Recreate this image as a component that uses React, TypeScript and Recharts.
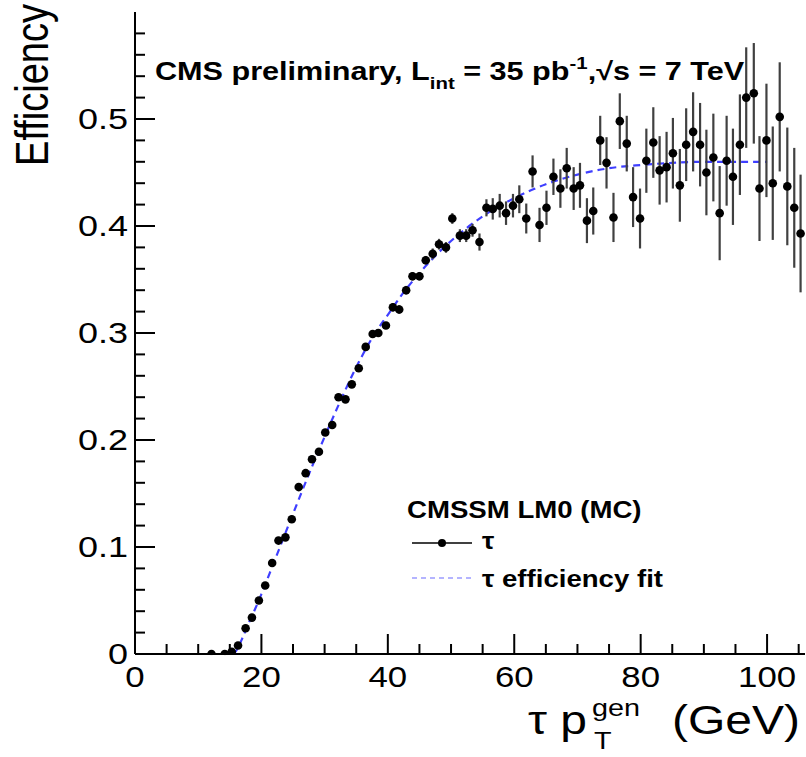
import { ComposedChart, ErrorBar, Line, Scatter, XAxis, YAxis } from 'recharts';

// measured tau efficiency (MC), bin centres in GeV
const ptGen = [
    12.1, 14.2, 15.3, 16.3, 17.5, 18.5, 19.6, 20.6, 21.7, 22.7, 23.8, 24.8, 25.9, 27.0, 28.0, 29.1, 30.1, 31.2,
    32.2, 33.3, 34.3, 35.4, 36.5, 37.6, 38.5, 39.7, 40.8, 41.8, 42.9, 43.9, 45.0, 46.0, 47.1, 48.1, 49.2, 50.2,
    51.4, 52.4, 53.4, 54.5, 55.6, 56.6, 57.7, 58.7, 59.8, 60.8, 61.9, 62.9, 64.0, 65.1, 66.2, 67.3, 68.3, 69.4,
    70.4, 71.5, 72.5, 73.6, 74.6, 75.7, 76.7, 77.8, 78.8, 79.9, 80.9, 82.0, 83.0, 84.1, 85.1, 86.2, 87.2, 88.3,
    89.4, 90.4, 91.5, 92.5, 93.6, 94.6, 95.7, 96.7, 97.9, 98.8, 99.9, 100.9, 102.0, 103.2, 104.3, 105.3,
];
const efficiency = [
    0.0, 0.0, 0.002, 0.008, 0.024, 0.034, 0.05, 0.064, 0.085, 0.106, 0.109, 0.126, 0.156, 0.169, 0.182, 0.189,
    0.207, 0.214, 0.24, 0.238, 0.252, 0.267, 0.287, 0.299, 0.3, 0.307, 0.324, 0.322, 0.34, 0.353, 0.353, 0.368,
    0.374, 0.383, 0.38, 0.407, 0.391, 0.391, 0.396, 0.385, 0.417, 0.416, 0.419, 0.412, 0.419, 0.425, 0.407,
    0.451, 0.401, 0.417, 0.446, 0.435, 0.454, 0.435, 0.438, 0.405, 0.414, 0.48, 0.459, 0.408, 0.498, 0.477,
    0.427, 0.407, 0.461, 0.478, 0.452, 0.455, 0.468, 0.438, 0.476, 0.488, 0.476, 0.45, 0.464, 0.412, 0.461,
    0.446, 0.476, 0.52, 0.524, 0.435, 0.48, 0.44, 0.502, 0.437, 0.417, 0.393,
];
const effError = [
    0.001, 0.001, 0.001, 0.002, 0.002, 0.002, 0.002, 0.002, 0.002, 0.002, 0.002, 0.002, 0.002, 0.002, 0.003,
    0.003, 0.003, 0.003, 0.003, 0.003, 0.003, 0.003, 0.003, 0.003, 0.003, 0.003, 0.004, 0.004, 0.004, 0.004,
    0.004, 0.004, 0.005, 0.005, 0.005, 0.005, 0.006, 0.006, 0.006, 0.008, 0.008, 0.01, 0.011, 0.011, 0.011,
    0.013, 0.014, 0.015, 0.016, 0.016, 0.017, 0.018, 0.019, 0.02, 0.021, 0.021, 0.022, 0.023, 0.024, 0.023,
    0.026, 0.026, 0.028, 0.028, 0.03, 0.033, 0.032, 0.033, 0.033, 0.034, 0.034, 0.037, 0.039, 0.04, 0.041,
    0.044, 0.042, 0.045, 0.047, 0.047, 0.047, 0.049, 0.053, 0.053, 0.051, 0.055, 0.056, 0.055,
];

// efficiency fit curve
const fitPt = [15.5, 16, 17, 18, 19, 20, 22, 25, 28, 30, 32, 35, 38, 40, 42, 45, 48, 50, 55, 60, 65, 70, 75, 80, 85, 90, 95, 100];
const fitEff = [
    0, 0.003, 0.015, 0.029, 0.042, 0.056, 0.086, 0.131, 0.175, 0.203, 0.23, 0.268, 0.3, 0.317, 0.334, 0.356,
    0.375, 0.386, 0.409, 0.426, 0.439, 0.448, 0.454, 0.457, 0.459, 0.46, 0.46, 0.46,
];

const xTicks = [0, 5, 10, 15, 20, 25, 30, 35, 40, 45, 50, 55, 60, 65, 70, 75, 80, 85, 90, 95, 100, 105];
const yTicks = [
    0, 0.02, 0.04, 0.06, 0.08, 0.1, 0.12, 0.14, 0.16, 0.18, 0.2, 0.22, 0.24, 0.26, 0.28, 0.3, 0.32, 0.34, 0.36,
    0.38, 0.4, 0.42, 0.44, 0.46, 0.48, 0.5, 0.52, 0.54, 0.56, 0.58,
];

const points = ptGen.map((x, i) => ({ x, eff: efficiency[i], err: effError[i] }));
const fit = fitPt.map((x, i) => ({ x, eff: fitEff[i] }));

const FONT = '"Liberation Sans", Arial, Helvetica, sans-serif';
const SX = 1.2;

function SText({ x, y, sx = SX, children, ...rest }: any) {
    return (
        <g transform={`translate(${x},${y}) scale(${sx},1)`}>
            <text x={0} y={0} fontFamily={FONT} fill="#000" {...rest}>
                {children}
            </text>
        </g>
    );
}

const xMajor = (v: number) => v % 20 === 0;
const yMajor = (v: number) => Math.round(v * 100) % 10 === 0;

function BottomTick({ x, y, payload }: any) {
    const v = payload.value;
    return (
        <g>
            <line x1={x} x2={x} y1={y} y2={y - (xMajor(v) ? 20 : 10)} stroke="#000" strokeWidth={2} />
            {xMajor(v) && (
                <SText x={x} y={y + 33} fontSize={29} textAnchor="middle">
                    {v}
                </SText>
            )}
        </g>
    );
}

function TopTick({ x, y, payload }: any) {
    const v = payload.value;
    return <line x1={x} x2={x} y1={y} y2={y + (xMajor(v) ? 20 : 10)} stroke="#000" strokeWidth={2} />;
}

function LeftTick({ x, y, payload }: any) {
    const v = payload.value;
    return (
        <g>
            <line x1={x} x2={x + (yMajor(v) ? 20 : 10)} y1={y} y2={y} stroke="#000" strokeWidth={2} />
            {yMajor(v) && (
                <SText x={x - 7} y={y + 10} fontSize={30} textAnchor="end">
                    {String(Math.round(v * 10) / 10)}
                </SText>
            )}
        </g>
    );
}

function RightTick({ x, y, payload }: any) {
    const v = payload.value;
    return <line x1={x} x2={x - (yMajor(v) ? 20 : 10)} y1={y} y2={y} stroke="#000" strokeWidth={2} />;
}

const frame = { stroke: '#000', strokeWidth: 2 };

export default function App() {
    return (
        <div style={{ position: 'absolute', left: 0, top: 0, width: 806, height: 757, background: '#fff' }}>
            <ComposedChart width={806} height={757} margin={{ top: 12, right: 1, bottom: 0, left: 0 }}>
                <XAxis
                    xAxisId="b"
                    dataKey="x"
                    type="number"
                    domain={[0, 106]}
                    allowDataOverflow
                    ticks={xTicks}
                    interval={0}
                    height={103}
                    tickSize={0}
                    tickMargin={0}
                    axisLine={frame}
                    tick={<BottomTick />}
                />
                <XAxis
                    xAxisId="t"
                    orientation="top"
                    dataKey="x"
                    type="number"
                    domain={[0, 106]}
                    allowDataOverflow
                    ticks={xTicks}
                    interval={0}
                    height={0}
                    tickSize={0}
                    tickMargin={0}
                    axisLine={frame}
                    tick={<TopTick />}
                />
                <YAxis
                    yAxisId="l"
                    dataKey="eff"
                    type="number"
                    domain={[0, 0.6]}
                    allowDataOverflow
                    ticks={yTicks}
                    interval={0}
                    width={135}
                    tickSize={0}
                    tickMargin={0}
                    axisLine={frame}
                    tick={<LeftTick />}
                />
                <YAxis
                    yAxisId="r"
                    orientation="right"
                    dataKey="eff"
                    type="number"
                    domain={[0, 0.6]}
                    allowDataOverflow
                    ticks={yTicks}
                    interval={0}
                    width={0}
                    tickSize={0}
                    tickMargin={0}
                    axisLine={frame}
                    tick={<RightTick />}
                />
                <Line
                    xAxisId="b"
                    yAxisId="l"
                    data={fit}
                    dataKey="eff"
                    type="monotone"
                    dot={false}
                    stroke="#3f3fff"
                    strokeWidth={2.2}
                    strokeDasharray="7 5"
                    isAnimationActive={false}
                />
                <Scatter
                    xAxisId="b"
                    yAxisId="l"
                    data={points}
                    dataKey="eff"
                    fill="#000"
                    shape={(p: any) => <circle cx={p.cx} cy={p.cy} r={4.3} fill="#000" />}
                    isAnimationActive={false}
                >
                    <ErrorBar dataKey="err" direction="y" width={0} stroke="#404040" strokeWidth={2.2} />
                </Scatter>
            </ComposedChart>

            <svg width={806} height={757} style={{ position: 'absolute', left: 0, top: 0, pointerEvents: 'none' }}>
                {/* header */}
                <SText x={155} y={80} fontSize={25.5} fontWeight="bold">
                    CMS preliminary, L
                    <tspan fontSize={17} dy={9}>
                        int
                    </tspan>
                    <tspan dy={-9}> = 35 pb</tspan>
                    <tspan fontSize={17} dy={-11}>
                        -1
                    </tspan>
                    <tspan dy={11}>,√s = 7 TeV</tspan>
                </SText>

                {/* legend */}
                <SText x={407} y={518} fontSize={24} fontWeight="bold" sx={1.15}>
                    CMSSM LM0 (MC)
                </SText>
                <line x1={412} x2={472} y1={543} y2={543} stroke="#000" strokeWidth={1.5} />
                <circle cx={442} cy={543} r={4} fill="#000" />
                <SText x={482} y={549} fontSize={24} fontWeight="bold" sx={1.15}>
                    τ
                </SText>
                <line x1={412} x2={472} y1={578} y2={578} stroke="#9c9cff" strokeWidth={1.5} strokeDasharray="5 4" />
                <SText x={482} y={587} fontSize={24} fontWeight="bold" sx={1.15}>
                    τ efficiency fit
                </SText>

                {/* y title */}
                <g transform="translate(48,4) rotate(-90) scale(1,1.2)">
                    <text x={0} y={0} fontFamily={FONT} fontSize={38} textAnchor="end" fill="#000">
                        Efficiency
                    </text>
                </g>

                {/* x title */}
                <SText x={528} y={734} fontSize={40}>
                    τ p
                </SText>
                <SText x={592} y={716} fontSize={24}>
                    gen
                </SText>
                <SText x={594} y={749} fontSize={24}>
                    T
                </SText>
                <SText x={800} y={734} fontSize={40} textAnchor="end">
                    (GeV)
                </SText>
            </svg>
        </div>
    );
}
